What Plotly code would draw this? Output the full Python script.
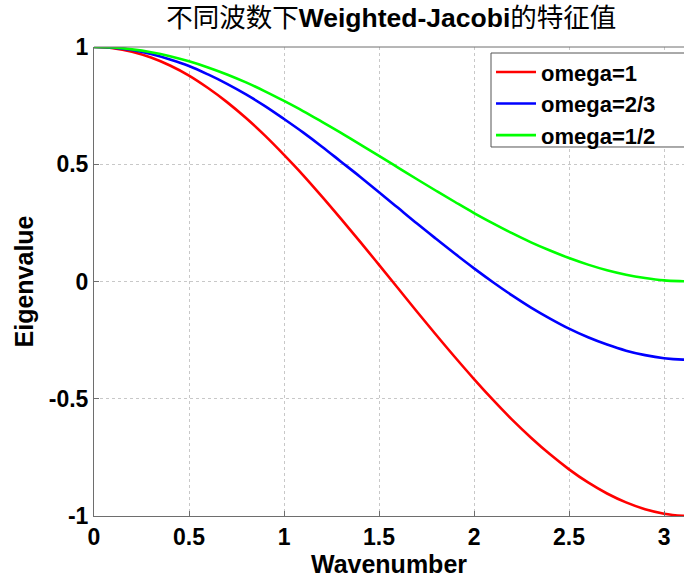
import plotly.graph_objects as go

# Wavenumber samples (radians) and the eigenvalue read at each one
wavenumber = [0.0, 0.1, 0.2, 0.3, 0.4, 0.5, 0.6, 0.7, 0.8, 0.9, 1.0, 1.1, 1.2, 1.3,
              1.4, 1.5, 1.6, 1.7, 1.8, 1.9, 2.0, 2.1, 2.2, 2.3, 2.4, 2.5, 2.6, 2.7,
              2.8, 2.9, 3.0, 3.1, 3.1416]

eig_omega_1 = [1.000, 0.995, 0.980, 0.955, 0.921, 0.878, 0.825, 0.765, 0.697, 0.622,
               0.540, 0.454, 0.362, 0.267, 0.170, 0.071, -0.029, -0.129, -0.227,
               -0.323, -0.416, -0.505, -0.589, -0.666, -0.737, -0.801, -0.857,
               -0.904, -0.942, -0.971, -0.990, -0.999, -1.000]

eig_omega_2_3 = [1.000, 0.997, 0.987, 0.970, 0.947, 0.919, 0.883, 0.843, 0.798, 0.748,
                 0.693, 0.636, 0.575, 0.511, 0.447, 0.381, 0.314, 0.247, 0.182,
                 0.118, 0.056, -0.003, -0.059, -0.111, -0.158, -0.201, -0.238,
                 -0.269, -0.295, -0.314, -0.327, -0.333, -0.333]

eig_omega_1_2 = [1.000, 0.998, 0.990, 0.978, 0.961, 0.939, 0.913, 0.883, 0.849, 0.811,
                 0.770, 0.727, 0.681, 0.634, 0.585, 0.536, 0.486, 0.436, 0.387,
                 0.339, 0.292, 0.248, 0.206, 0.167, 0.132, 0.100, 0.072, 0.048,
                 0.029, 0.015, 0.005, 0.001, 0.000]

series_names = ["omega=1", "omega=2/3", "omega=1/2"]
series_values = [eig_omega_1, eig_omega_2_3, eig_omega_1_2]
series_colors = ["#ff0000", "#0000ff", "#00ff00"]

x_ticks = [0, 0.5, 1, 1.5, 2, 2.5, 3]
x_tick_text = ["0", "0.5", "1", "1.5", "2", "2.5", "3"]
y_ticks = [-1, -0.5, 0, 0.5, 1]
y_tick_text = ["-1", "-0.5", "0", "0.5", "1"]

FONT = "Liberation Sans, Arial, sans-serif"
BOLD = lambda size: dict(family=FONT, size=size, color="black", weight="bold")

fig = go.Figure()
for name, vals, color in zip(series_names, series_values, series_colors):
    fig.add_trace(go.Scatter(x=wavenumber, y=vals, mode="lines", name=name,
                             line=dict(color=color, width=2.6, shape="spline")))

axis_common = dict(
    showgrid=True, gridcolor="#c8c8c8", griddash="dot", gridwidth=1,
    zeroline=False, showline=True, linecolor="#6e6e6e", linewidth=1,
    ticks="inside", ticklen=5, tickcolor="#6e6e6e",
    tickfont=BOLD(23),
)

# legend frame runs past the right edge of the figure
leg_x0, leg_y0, leg_y1 = 0.6729, 0.7868, 0.9872

fig.update_layout(
    width=684, height=578,
    margin=dict(l=94, r=0, t=47, b=62),
    paper_bgcolor="white", plot_bgcolor="white",
    title=dict(text="不同波数下<b>Weighted-Jacobi</b>的特征值",
               font=dict(family="Liberation Sans, Noto Sans CJK SC", size=26.5, color="black"),
               x=0.572, xanchor="center", y=0.969, yanchor="middle"),
    xaxis=dict(range=[0, 3.105], tickvals=x_ticks, ticktext=x_tick_text,
               title=dict(text="Wavenumber", font=BOLD(25), standoff=1),
               **axis_common),
    yaxis=dict(range=[-1, 1], tickvals=y_ticks, ticktext=y_tick_text,
               title=dict(text="Eigenvalue", font=BOLD(25), standoff=8),
               **axis_common),
    showlegend=True,
    legend=dict(x=leg_x0, y=leg_y1 + 0.004, xanchor="left", yanchor="top",
                bgcolor="rgba(0,0,0,0)", borderwidth=0,
                font=BOLD(22), itemwidth=40, tracegroupgap=0),
    shapes=[
        dict(type="line", xref="paper", yref="paper", x0=0, x1=1, y0=1, y1=1,
             line=dict(color="#6e6e6e", width=1), layer="above"),
        dict(type="rect", xref="paper", yref="paper", x0=leg_x0, x1=1.1,
             y0=leg_y0, y1=leg_y1, fillcolor="white",
             line=dict(color="#555555", width=1), layer="above"),
    ],
)

fig.write_html("out.html")
